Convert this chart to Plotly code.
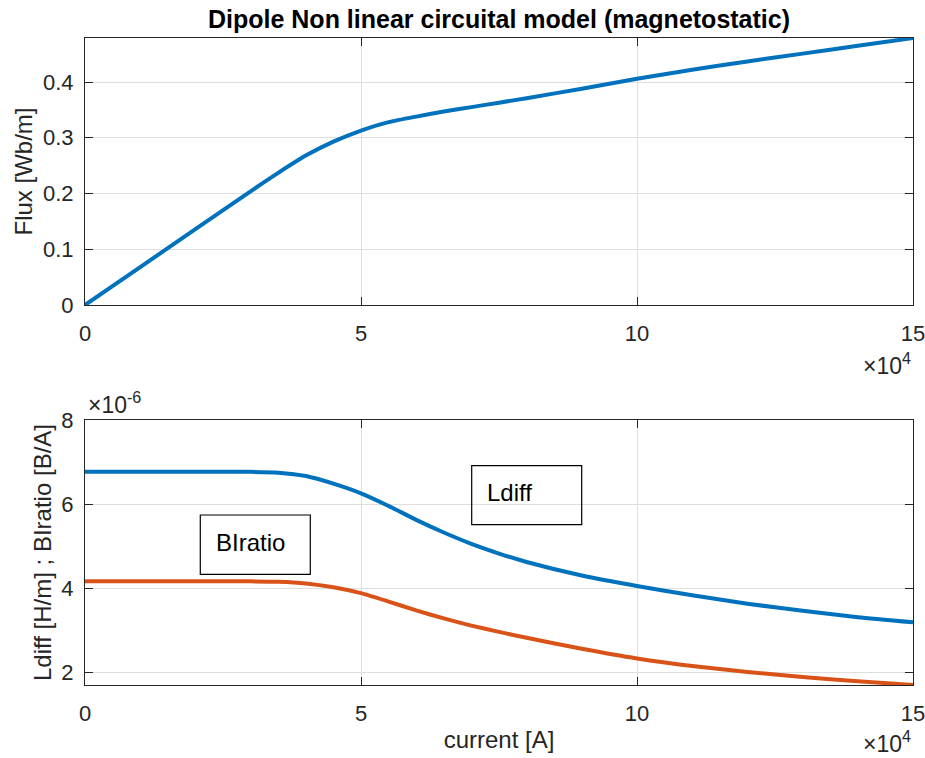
import plotly.graph_objects as go
from plotly.subplots import make_subplots

# Current samples [A]
current = [0, 1e4, 2e4, 3e4, 3.5e4, 4e4, 4.5e4, 5e4, 5.5e4, 6e4, 6.5e4, 7e4, 7.5e4,
           8e4, 9e4, 10e4, 11e4, 12e4, 13e4, 14e4, 15e4]

# Flux per unit length [Wb/m]
flux = [0.0, 0.068, 0.136, 0.204, 0.237, 0.268, 0.293, 0.313, 0.328, 0.338, 0.347,
        0.355, 0.363, 0.371, 0.388, 0.406, 0.422, 0.437, 0.451, 0.465, 0.479]

# Inductance curves [x1e-6]
ldiff = [6.77, 6.77, 6.77, 6.77, 6.75, 6.67, 6.49, 6.26, 5.96, 5.63, 5.33,
         5.06, 4.83, 4.63, 4.31, 4.06, 3.84, 3.64, 3.47, 3.32, 3.20]
biratio = [4.17, 4.17, 4.17, 4.17, 4.16, 4.12, 4.03, 3.89, 3.69, 3.48, 3.29,
           3.12, 2.97, 2.83, 2.57, 2.34, 2.16, 2.02, 1.90, 1.80, 1.71]

x_ticks = [0, 5e4, 10e4, 15e4]
x_ticktext = ["0", "5", "10", "15"]
flux_ticks = [0, 0.1, 0.2, 0.3, 0.4]
flux_ticktext = ["0", "0.1", "0.2", "0.3", "0.4"]
l_ticks = [2, 4, 6, 8]
l_ticktext = ["2", "4", "6", "8"]

BLUE = "#0072BD"
ORANGE = "#D95319"
AXC = "#262626"
GRID = "#dfdfdf"
FONT = "Liberation Sans, Arial, sans-serif"

W, H = 925, 758
ML, MR, MT, MB = 85, 12, 38, 73
PW = W - ML - MR
PH = H - MT - MB


def px_x(p):
    return (p - ML) / PW


def px_y(p):
    return (H - MB - p) / PH


fig = make_subplots(rows=2, cols=1, shared_xaxes=False)

line_style = dict(width=4, shape="spline", smoothing=0.6)
fig.add_trace(go.Scatter(x=current, y=flux, mode="lines",
                         line=dict(color=BLUE, **line_style),
                         showlegend=False), row=1, col=1)
fig.add_trace(go.Scatter(x=current, y=ldiff, mode="lines",
                         line=dict(color=BLUE, **line_style),
                         showlegend=False), row=2, col=1)
fig.add_trace(go.Scatter(x=current, y=biratio, mode="lines",
                         line=dict(color=ORANGE, **line_style),
                         showlegend=False), row=2, col=1)

axis_common = dict(showline=True, linecolor=AXC, linewidth=1.2, mirror="ticks",
                   ticks="inside", ticklen=8, tickwidth=1.2, tickcolor=AXC,
                   showgrid=True, gridcolor=GRID, gridwidth=1, zeroline=False,
                   automargin=False, ticklabeloverflow="allow",
                   tickfont=dict(family=FONT, size=22, color=AXC))

fig.update_xaxes(**axis_common, range=[0, 15e4], tickvals=x_ticks, ticktext=x_ticktext,
                 ticklabelstandoff=8)
fig.update_yaxes(**axis_common, ticklabelstandoff=6)

fig.update_layout(
    xaxis=dict(domain=[0, 1]),
    yaxis=dict(domain=[px_y(305), 1], range=[0, 0.479], tickvals=flux_ticks,
               ticktext=flux_ticktext,
               title=dict(text="Flux [Wb/m]", standoff=3,
                          font=dict(family=FONT, size=24, color=AXC))),
    xaxis2=dict(domain=[0, 1],
                title=dict(text="current [A]", standoff=6,
                           font=dict(family=FONT, size=24, color=AXC))),
    yaxis2=dict(domain=[0, px_y(420)], range=[1.71, 8], tickvals=l_ticks,
                ticktext=l_ticktext,
                title=dict(text="Ldiff [H/m] ; BIratio [B/A]", standoff=2,
                           font=dict(family=FONT, size=24, color=AXC))),
    width=W, height=H,
    margin=dict(l=ML, r=MR, t=MT, b=MB),
    paper_bgcolor="white", plot_bgcolor="white",
    title=dict(text="<b>Dipole Non linear circuital model (magnetostatic)</b>",
               x=0.5, xref="paper", xanchor="center",
               y=1 - 19 / H, yref="container", yanchor="middle",
               font=dict(family=FONT, size=25, color="#000000")),
)

# Exponent labels for the axes
fig.add_annotation(text="\u00d710<sup>4</sup>", xref="paper", yref="paper",
                   x=px_x(913), y=px_y(364), xanchor="right", yanchor="middle",
                   showarrow=False, font=dict(family=FONT, size=23, color=AXC))
fig.add_annotation(text="\u00d710<sup>4</sup>", xref="paper", yref="paper",
                   x=px_x(913), y=px_y(742), xanchor="right", yanchor="middle",
                   showarrow=False, font=dict(family=FONT, size=23, color=AXC))
fig.add_annotation(text="\u00d710<sup>-6</sup>", xref="paper", yref="paper",
                   x=px_x(86), y=px_y(403), xanchor="left", yanchor="middle",
                   showarrow=False, font=dict(family=FONT, size=23, color=AXC))

# Text boxes naming the two curves
boxes = [
    ("Ldiff", 471.7, 581.7, 465.7, 524.7, 485, 492),
    ("BIratio", 200.3, 310.3, 515.0, 574.3, 213.5, 542),
]
for label, x0, x1, y0, y1, tx, ty in boxes:
    fig.add_shape(type="rect", xref="paper", yref="paper",
                  x0=px_x(x0), x1=px_x(x1), y0=px_y(y1), y1=px_y(y0),
                  line=dict(color="#000000", width=1.2), fillcolor="rgba(0,0,0,0)")
    fig.add_annotation(text=label, xref="paper", yref="paper",
                       x=px_x(tx), y=px_y(ty), xanchor="left", yanchor="middle",
                       showarrow=False, font=dict(family=FONT, size=24, color="#000000"))

fig.write_html("out.html")
